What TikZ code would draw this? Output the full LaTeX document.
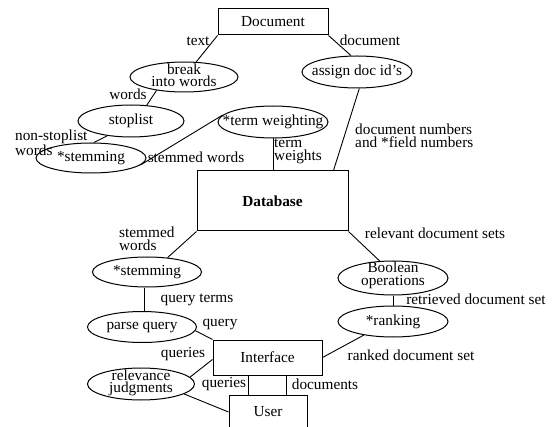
\documentclass[tikz,border=0pt]{standalone}
\usepackage{fontspec}
\setmainfont{Liberation Serif}
\usetikzlibrary{shapes.geometric,calc}
\begin{document}
\begin{tikzpicture}[x=1pt,y=-1pt,
  every node/.style={font=\fontsize{15.3}{12.5}\selectfont},
  proc/.style={ellipse,draw,line width=1pt,inner sep=0pt},
  box/.style={rectangle,draw,line width=1pt,inner sep=0pt},
  lbl/.style={inner sep=0pt},
  inl/.style={inner sep=0pt,align=center},
  mlbl/.style={inner sep=0pt,align=left,anchor=north west},
  conn/.style={line width=0.9pt}]
\useasboundingbox (0,0) rectangle (556,427);

% boxes
\node[box,minimum width=110pt,minimum height=26pt] (doc) at (273,22) {Document};
\node[box,minimum width=151pt,minimum height=60pt] (db) at (272.5,201) {\bfseries Database};
\node[box,minimum width=109pt,minimum height=35pt] (ifc) at (267.5,357.5) {Interface};
\node[box,minimum width=78pt,minimum height=34pt] (usr) at (268,412) {User};

% processes
\node[proc,minimum width=108pt,minimum height=30pt,label={[inl,yshift=1.5pt]center:break\\into words}] (brk) at (184,77) {};
\node[proc,minimum width=110pt,minimum height=32pt,label={[inl]center:assign doc id's}] (asg) at (357,72) {};
\node[proc,minimum width=106pt,minimum height=32pt,label={[inl]center:stoplist}] (stp) at (131,121) {};
\node[proc,minimum width=110pt,minimum height=30pt,label={[inl]center:*stemming}] (stm1) at (91,158) {};
\node[proc,minimum width=110pt,minimum height=32pt,label={[inl]center:*term weighting}] (tw) at (273,122) {};
\node[proc,minimum width=109pt,minimum height=30pt,label={[inl]center:*stemming}] (stm2) at (147,272) {};
\node[proc,minimum width=109pt,minimum height=31pt,label={[inl]center:parse query}] (prs) at (142,327) {};
\node[proc,minimum width=107pt,minimum height=32pt,label={[inl,yshift=1pt]center:relevance\\judgments}] (rel) at (141,384) {};
\node[proc,minimum width=110pt,minimum height=34pt,label={[inl,yshift=2.5pt]center:Boolean\\operations}] (bool) at (393,278) {};
\node[proc,minimum width=110pt,minimum height=31pt,label={[inl]center:*ranking}] (rnk) at (393,321.5) {};

% connectors
\draw[conn] (doc.south west) -- (brk);
\draw[conn] (doc.south east) -- (asg.110);
\draw[conn] (brk.206) -- (stp.45);
\draw[conn] (stp.212) -- (stm1.80);
\draw[conn] (stm1.-8) -- (tw.172);
\draw[conn] (tw.south) -- (tw.south |- db.north);
\coordinate (dbin) at ([xshift=-15pt]db.north east);
\draw[conn] (asg.-82) -- (dbin);
\draw[conn] (db.south west) -- (stm2.35);
\coordinate (sq) at ([xshift=-3pt]stm2.south);
\draw[conn] (sq) -- (sq |- prs.north);
\draw[conn] (prs.-4) -- (ifc.north west);
\coordinate (iw) at ([yshift=-2pt]ifc.west);
\draw[conn] (iw) -- (rel.8);
\draw[conn] (rel.-13) -- (usr.west);
\coordinate (qa) at ([xshift=-19.5pt]ifc.south);
\draw[conn] (qa) -- (qa |- usr.north);
\coordinate (da) at ([xshift=18.5pt]ifc.south);
\draw[conn] (da) -- (da |- usr.north);
\draw[conn] (db.south east) -- (bool.128);
\draw[conn] (bool.south) -- (rnk.north);
\draw[conn] (rnk.205) -- (ifc.east);

% labels
\node[lbl] (ltext) at (198,41) {text};
\node[lbl] (ldoc) at (370,40) {document};
\node[lbl] (lwords) at (128,94) {words};
\node[mlbl] (lnonstop) at (15,130) {non-stoplist\\words};
\node[lbl] (lstw) at (196,157) {stemmed words};
\node[mlbl] (ltw) at (274,139) {term\\weights};
\node[mlbl] (ldocnum) at (355,124) {document numbers\\and *field numbers};
\node[mlbl] (lstw2) at (119,227) {stemmed\\words};
\node[lbl] (lqt) at (197,300) {query terms};
\node[lbl] (lq) at (220,324) {query};
\node[lbl] (lqs1) at (183,354) {queries};
\node[lbl] (lqs2) at (224,384) {queries};
\node[lbl] (ldocs) at (325,384) {documents};
\node[lbl] (lrds) at (435,233) {relevant document sets};
\node[lbl] (lret) at (476,299) {retrieved document set};
\node[lbl] (lrank) at (411,355) {ranked document set};
\end{tikzpicture}
\end{document}
